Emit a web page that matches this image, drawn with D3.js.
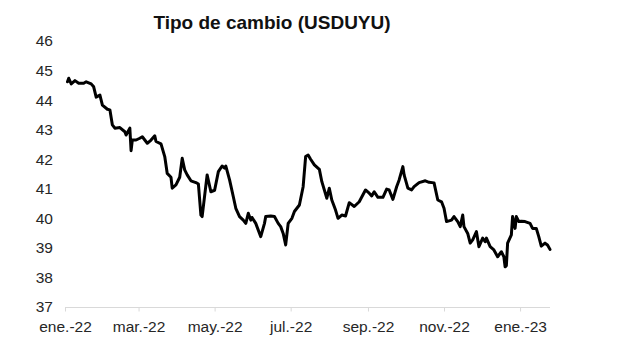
<!DOCTYPE html>
<html>
<head>
<meta charset="utf-8">
<script src="https://cdn.jsdelivr.net/npm/d3@7.9.0/dist/d3.min.js"></script>
<style>
  body { margin: 0; background: #fff; }
  svg { display: block; font-family: "Liberation Sans", Arial, sans-serif; }
</style>
</head>
<body>
<svg id="chart" width="617" height="346"></svg>
<script>
// --- data ---
const title = 'Tipo de cambio (USDUYU)';

const dates = [
  '2022-01-03','2022-01-04','2022-01-06','2022-01-09','2022-01-12','2022-01-16','2022-01-18','2022-01-22',
  '2022-01-24','2022-01-26','2022-01-29','2022-01-31','2022-02-04','2022-02-06','2022-02-08','2022-02-10',
  '2022-02-14','2022-02-18','2022-02-19','2022-02-22','2022-02-23','2022-02-24','2022-02-27','2022-03-02',
  '2022-03-04','2022-03-08','2022-03-11','2022-03-14','2022-03-15','2022-03-19','2022-03-22','2022-03-24',
  '2022-03-27','2022-03-28','2022-03-31','2022-04-03','2022-04-05','2022-04-07','2022-04-09','2022-04-12',
  '2022-04-16','2022-04-18','2022-04-20','2022-04-21','2022-04-25','2022-04-28','2022-05-01','2022-05-04',
  '2022-05-07','2022-05-09','2022-05-10','2022-05-13','2022-05-16','2022-05-18','2022-05-21','2022-05-24',
  '2022-05-26','2022-05-28','2022-05-30','2022-05-31','2022-06-03','2022-06-07','2022-06-10','2022-06-11',
  '2022-06-15','2022-06-18','2022-06-21','2022-06-23','2022-06-25','2022-06-27','2022-06-29','2022-07-02',
  '2022-07-04','2022-07-08','2022-07-11','2022-07-13','2022-07-15','2022-07-17','2022-07-20','2022-07-24',
  '2022-07-26','2022-07-30','2022-08-01','2022-08-03','2022-08-06','2022-08-08','2022-08-11','2022-08-14',
  '2022-08-17','2022-08-21','2022-08-25','2022-08-30','2022-09-02','2022-09-04','2022-09-06','2022-09-09',
  '2022-09-13','2022-09-16','2022-09-18','2022-09-21','2022-09-24','2022-09-26','2022-09-29','2022-09-30',
  '2022-10-03','2022-10-06','2022-10-08','2022-10-12','2022-10-17','2022-10-20','2022-10-24','2022-10-27',
  '2022-10-30','2022-11-01','2022-11-03','2022-11-07','2022-11-09','2022-11-12','2022-11-14','2022-11-16',
  '2022-11-17','2022-11-20','2022-11-22','2022-11-24','2022-11-27','2022-11-29','2022-12-02','2022-12-04',
  '2022-12-05','2022-12-08','2022-12-11','2022-12-14','2022-12-17','2022-12-19','2022-12-20','2022-12-21',
  '2022-12-22','2022-12-25','2022-12-26','2022-12-28','2022-12-29','2022-12-31','2023-01-02','2023-01-05',
  '2023-01-09','2023-01-11','2023-01-14','2023-01-16','2023-01-18','2023-01-21','2023-01-23','2023-01-25'
];

const rates = [
  44.62,44.74,44.55,44.66,44.57,44.57,44.62,44.55,
  44.45,44.10,44.17,43.83,43.69,43.67,43.16,43.05,
  43.07,42.93,42.82,43.05,42.29,42.65,42.65,42.71,
  42.76,42.54,42.65,42.79,42.60,42.52,42.09,41.52,
  41.39,41.02,41.13,41.39,42.03,41.64,41.47,41.27,
  41.21,41.16,40.11,40.06,41.47,40.90,40.95,41.58,
  41.77,41.70,41.77,41.30,40.73,40.34,40.06,39.94,
  39.83,40.17,39.94,40.03,39.83,39.38,39.83,40.06,
  40.08,40.06,39.83,39.72,39.49,39.10,39.83,40.00,
  40.23,40.45,41.07,42.09,42.14,42.00,41.81,41.66,
  41.24,40.68,41.02,40.62,40.28,40.00,40.11,40.08,
  40.53,40.40,40.56,40.96,40.85,40.76,40.90,40.71,
  40.71,40.99,40.96,40.64,41.07,41.30,41.75,41.47,
  41.02,40.96,41.07,41.21,41.27,41.22,41.20,40.62,
  40.56,40.34,39.89,39.94,40.06,39.89,39.72,40.11,
  39.72,39.49,39.16,39.27,39.55,39.04,39.33,39.21,
  39.33,39.04,38.93,38.70,38.87,38.70,38.36,38.40,
  39.16,39.44,40.06,39.66,40.06,39.89,39.90,39.89,
  39.83,39.66,39.66,39.38,39.06,39.16,39.10,38.95
];

const yTicks = [37, 38, 39, 40, 41, 42, 43, 44, 45, 46];
const xTickDates = ['2022-01-01','2022-03-01','2022-05-01','2022-07-01','2022-09-01','2022-11-01','2023-01-01'];
const xTickLabels = ['ene.-22','mar.-22','may.-22','jul.-22','sep.-22','nov.-22','ene.-23'];

// --- layout ---
const parse = d3.utcParse('%Y-%m-%d');
const series = dates.map((d, i) => ({ date: parse(d), value: rates[i] }));

const svg = d3.select('#chart');

const x = d3.scaleUtc()
  .domain([parse('2022-01-01'), parse('2023-01-25')])
  .range([65, 550]);

const y = d3.scaleLinear()
  .domain([37, 46])
  .range([307, 41]);

// title
svg.append('text')
  .attr('x', 272)
  .attr('y', 29)
  .attr('text-anchor', 'middle')
  .attr('font-size', 19)
  .attr('font-weight', 'bold')
  .attr('fill', '#111')
  .text(title);

// y axis (labels only)
const yAxis = svg.append('g')
  .attr('transform', 'translate(53,0)')
  .call(d3.axisLeft(y).tickValues(yTicks).tickSize(0).tickPadding(0).tickFormat(d3.format('d')));
yAxis.select('.domain').remove();
yAxis.selectAll('text')
  .attr('font-size', 15.5)
  .attr('font-family', '"Liberation Sans", Arial, sans-serif')
  .attr('fill', '#262626');

// x axis
const xAxis = svg.append('g')
  .attr('transform', `translate(0,${y(37) + 0.5})`)
  .call(d3.axisBottom(x)
    .tickValues(xTickDates.map(parse))
    .tickSize(4)
    .tickPadding(9)
    .tickFormat((d, i) => xTickLabels[i]));
xAxis.select('.domain')
  .attr('stroke', '#d9d9d9')
  .attr('d', `M${x.range()[0]},0H${x.range()[1]}`);
xAxis.selectAll('.tick line').attr('stroke', '#d9d9d9');
xAxis.selectAll('text')
  .attr('font-size', 15.5)
  .attr('font-family', '"Liberation Sans", Arial, sans-serif')
  .attr('fill', '#262626');

// line
const line = d3.line()
  .x(d => x(d.date))
  .y(d => y(d.value));

svg.append('path')
  .datum(series)
  .attr('fill', 'none')
  .attr('stroke', '#000')
  .attr('stroke-width', 3)
  .attr('stroke-linejoin', 'round')
  .attr('stroke-linecap', 'round')
  .attr('d', line);
</script>
</body>
</html>
